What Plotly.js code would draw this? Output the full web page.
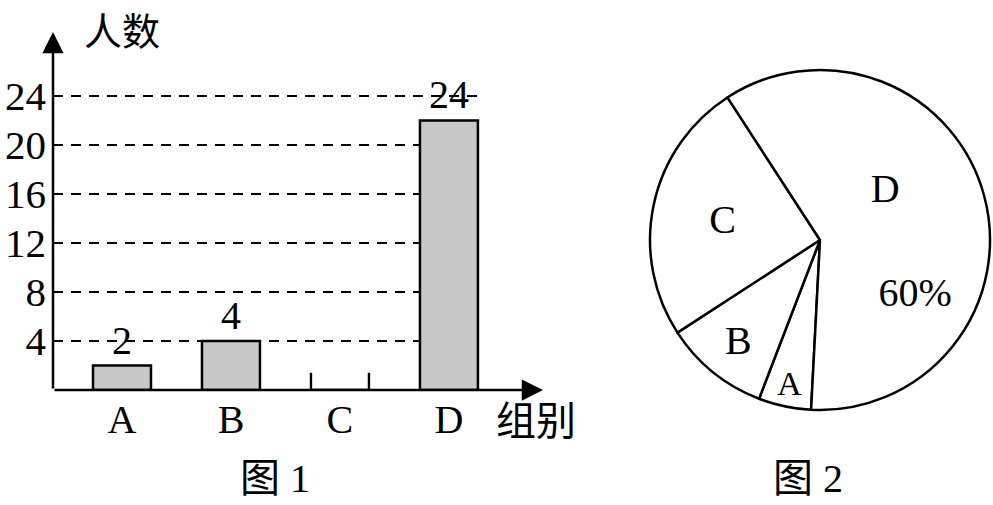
<!DOCTYPE html>
<html>
<head>
<meta charset="utf-8">
<script src="https://cdn.plot.ly/plotly-3.0.1.min.js"></script>
<style>
  html, body { margin: 0; padding: 0; background: #fff; }
  #chart { width: 993px; height: 505px; }
</style>
</head>
<body>
<div id="chart"></div>
<script>
// 图1 条形统计图的数据
var groups = ['A', 'B', 'C', 'D'];
var barValues = [2, 4, 0, 22];          // D 的柱子画到 22 附近
var barLabels = ['2', '4', '', '24'];   // 柱子上方的标注
var yTicks = [4, 8, 12, 16, 20, 24];
// C 组只画了两条短竖线（待补全）
var stubGroups = ['C', 'C'];
var stubValues = [1.4, 1.4];

// 图2 扇形统计图的数据（A 从正下方开始顺时针排）
var pieLabels = ['A', 'B', 'C', 'D'];
var pieValues = [2, 4, 10, 24];
var pieTexts = ['A', 'B', 'C', 'D  <br> <br>     60% '];

var FONT = 'Liberation Serif, Times New Roman, Noto Sans CJK SC, serif';
var CJK = 'Noto Sans CJK SC, sans-serif';

var W = 993, H = 505;
function px(x) { return x / W; }
function py(y) { return (H - y) / H; }

var bars = {
    type: 'bar',
    x: groups,
    y: barValues,
    text: barLabels,
    textposition: 'outside',
    constraintext: 'none',
    cliponaxis: false,
    textfont: { family: FONT, size: 40, color: '#000' },
    width: 0.532,
    marker: { color: '#c8c8c8', line: { color: '#000', width: 2.5 } },
    hoverinfo: 'skip',
    xaxis: 'x', yaxis: 'y'
};

var stubs = {
    type: 'bar',
    x: stubGroups,
    y: stubValues,
    width: [0.022, 0.022],
    offset: [-0.277, 0.255],
    marker: { color: '#000', line: { width: 0 } },
    hoverinfo: 'skip',
    xaxis: 'x', yaxis: 'y'
};

var pie = {
    type: 'pie',
    labels: pieLabels,
    values: pieValues,
    text: pieTexts,
    textinfo: 'text',
    textposition: 'inside',
    insidetextorientation: 'horizontal',
    sort: false,
    direction: 'clockwise',
    rotation: 183,
    marker: { colors: ['#fff', '#fff', '#fff', '#fff'], line: { color: '#000', width: 2.5 } },
    textfont: { family: FONT, size: 40, color: '#000' },
    domain: { x: [px(650), px(990)], y: [py(410), py(70)] },
    hoverinfo: 'skip'
};

function label(x, y, text, family, size) {
    return { xref: 'paper', yref: 'paper', x: px(x), y: py(y), xanchor: 'center', yanchor: 'middle',
             text: text, showarrow: false, font: { family: family, size: size || 40, color: '#000' } };
}

var layout = {
    width: W,
    height: H,
    margin: { l: 0, r: 0, t: 0, b: 0, autoexpand: false },
    paper_bgcolor: '#fff',
    plot_bgcolor: 'rgba(0,0,0,0)',
    showlegend: false,
    barmode: 'overlay',
    font: { family: FONT, color: '#000' },
    xaxis: {
        domain: [px(53), px(480)],
        range: [-0.633, 3.285],
        type: 'category',
        showgrid: false,
        zeroline: false,
        showline: false,
        ticks: '',
        tickfont: { family: FONT, size: 40, color: '#000' },
        ticklabelstandoff: 2
    },
    yaxis: {
        domain: [py(390), py(92.3)],
        range: [0, 24.3],
        tickvals: yTicks,
        ticktext: yTicks.map(String),
        showgrid: true,
        gridcolor: '#000',
        gridwidth: 2.5,
        griddash: '10px,8px',
        zeroline: false,
        showline: false,
        ticks: '',
        tickfont: { family: FONT, size: 41, color: '#000' },
        ticklabelstandoff: 6
    },
    annotations: [
        // 横轴（带箭头）
        { xref: 'paper', yref: 'paper', x: px(543), y: py(390), ax: -490, ay: 0,
          showarrow: true, arrowhead: 2, arrowsize: 1.7, arrowwidth: 2.5, arrowcolor: '#000', text: '' },
        // 纵轴（带箭头）
        { xref: 'paper', yref: 'paper', x: px(53), y: py(32), ax: 0, ay: 358,
          showarrow: true, arrowhead: 2, arrowsize: 1.7, arrowwidth: 2.5, arrowcolor: '#000', text: '' },
        label(122, 28, '人数', CJK, 38),
        label(536, 418, '组别', CJK),
        label(275, 478, '图 1', FONT),
        label(808, 478, '图 2', FONT)
    ]
};

Plotly.newPlot('chart', [bars, stubs, pie], layout, { displayModeBar: false, staticPlot: true });
</script>
</body>
</html>
